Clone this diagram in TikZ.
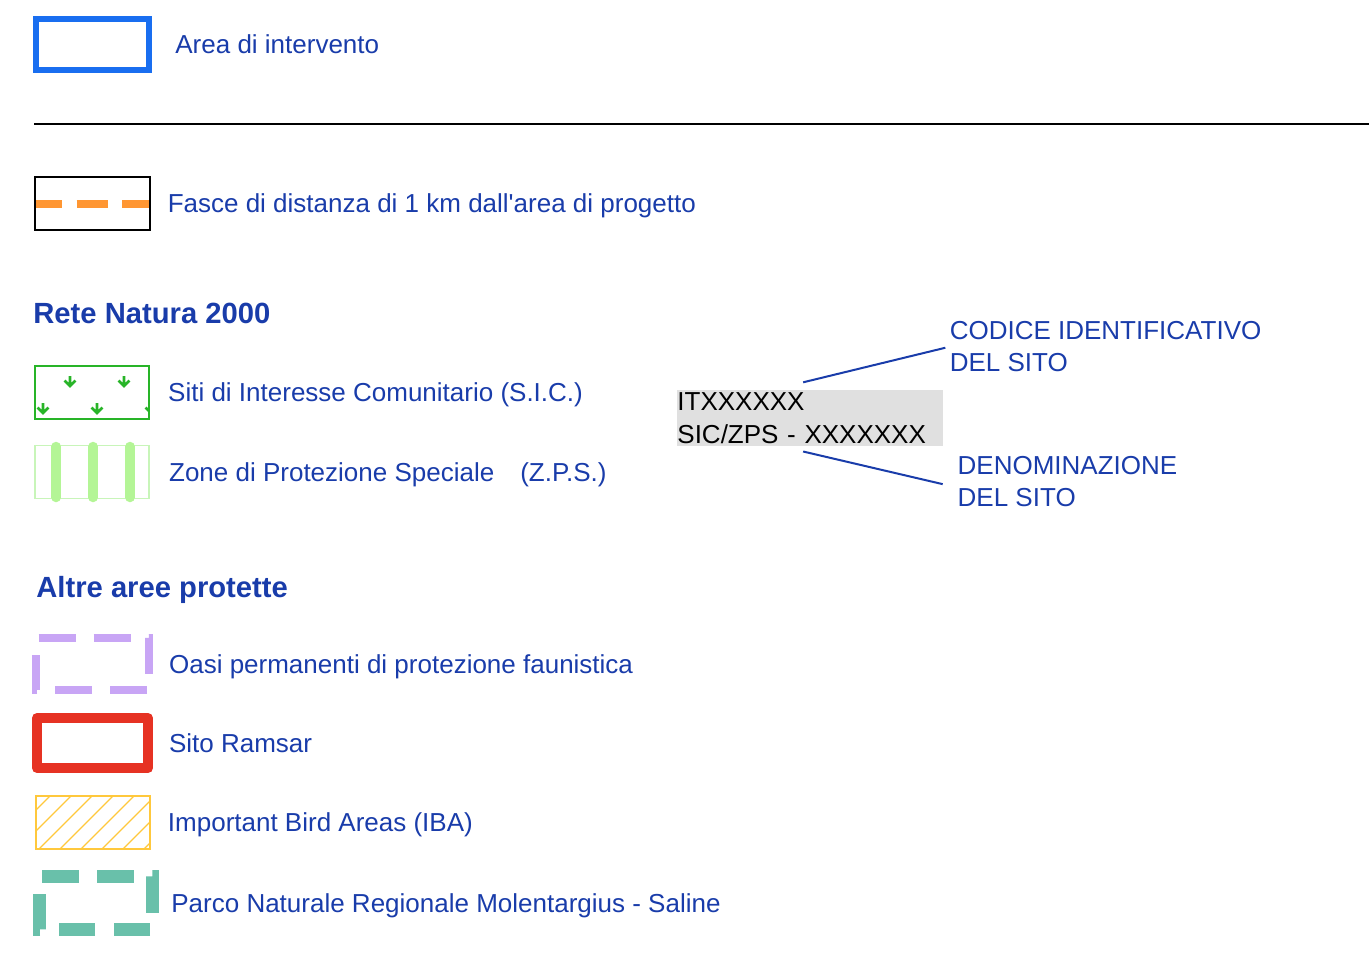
\documentclass[tikz,border=0pt]{standalone}
\usepackage{fontspec}
\setmainfont{Liberation Sans}
\usepackage{xcolor}
\usepackage{tikz}
\usetikzlibrary{positioning}
\usetikzlibrary{calc}

\definecolor{legendblue}{RGB}{25,60,170}
\definecolor{areablue}{RGB}{25,110,240}
\definecolor{fasceorange}{RGB}{255,150,50}
\definecolor{sicgreen}{RGB}{40,180,40}
\definecolor{zpsedge}{RGB}{200,245,185}
\definecolor{zpsfill}{RGB}{180,245,150}
\definecolor{oasililac}{RGB}{200,165,245}
\definecolor{ramsarred}{RGB}{230,50,35}
\definecolor{ibayellow}{RGB}{255,200,60}
\definecolor{parcoteal}{RGB}{105,192,170}
\definecolor{codegray}{RGB}{224,224,224}

\begin{document}
\begin{tikzpicture}[x=0.5pt,y=-0.5pt,
    lbl/.style={text=legendblue,inner sep=0pt,text height=9.3pt,text depth=0pt,
      font=\fontsize{13pt}{16.25pt}\selectfont},
    sidelbl/.style={text=legendblue,inner sep=0pt,align=left,anchor=west,
      font=\fontsize{13pt}{16.25pt}\selectfont},
    head/.style={text=legendblue,inner sep=0pt,text height=10.4pt,text depth=0pt,anchor=west,
      font=\fontsize{14.6pt}{17pt}\selectfont\bfseries},
    symbox/.style={minimum width=57pt,minimum height=26.5pt,inner sep=0pt},
    hidden/.style={symbox,outer sep=0pt},
    codebox/.style={fill=codegray,minimum width=132.75pt,minimum height=27.75pt,
      text width=132.75pt,align=left,inner sep=0pt,anchor=north west,
      font=\fontsize{13pt}{16.25pt}\selectfont},
    link/.style={draw=legendblue,line width=1pt},
    zpsbar/.style={draw=zpsfill,line width=5pt,line cap=round,shorten <=1pt,shorten >=1pt},
    sicmark/.pic={\draw[sicgreen,line width=1.3pt] (0,-5) -- (0,5) (-5.5,-0.5) -- (0,5) -- (5.5,-0.5);}]

    \useasboundingbox (0,0) rectangle (1369,966);

    \node[symbox,draw=areablue,line width=3pt,minimum width=56.5pt,minimum height=25.5pt] (area) at (92.5,44.5) {};
    \node[lbl,right=11.5pt of area] (areaT) {Area di intervento};

    \draw[line width=1.35pt] (34,124) -- (1369,124);

    \node[symbox,draw=black,line width=0.75pt,minimum width=57.5pt] (fasce) at (92.5,203.5) {};
    \draw[fasceorange,line width=4pt,dash pattern=on 15.5pt off 7.25pt,dash phase=2.5pt,
      shorten <=0.9pt,shorten >=0.9pt] (fasce.west) -- (fasce.east);
    \node[lbl,right=8.3pt of fasce] (fasceT) {Fasce di distanza di 1 km dall\textquotesingle area di progetto};

    \node[head] (rete) at (33,313.5) {Rete Natura 2000};

    \node[symbox,draw=sicgreen,line width=1pt,
      path picture={
        \foreach \dx/\dy in {-22/-11.5,32/-11.5,-49/15.5,5/15.5,59/15.5}
          \pic at ($(path picture bounding box.center)+(\dx,\dy)$) {sicmark};
      }] (sic) at (92,392.5) {};
    \node[lbl,right=8.9pt of sic] (sicT) {Siti di Interesse Comunitario (S.I.C.)};

    \node[symbox,draw=zpsedge,line width=0.75pt] (zps) at (92,472) {};
    \foreach \f in {0.19,0.51,0.83}
      \draw[zpsbar] ($(zps.north west)!\f!(zps.north east)$) -- ($(zps.south west)!\f!(zps.south east)$);
    \node[lbl,right=9.5pt of zps] (zpsT) {Zone di Protezione Speciale\hspace{13pt}(Z.P.S.)};

    \node[codebox] (code) at (677,390) {ITXXXXXX\\SIC/ZPS - XXXXXXX};
    \node[sidelbl] (codice) at (949.4,346.75) {CODICE IDENTIFICATIVO\\DEL SITO};
    \node[sidelbl] (denom) at (957.3,481.75) {DENOMINAZIONE\\DEL SITO};
    \draw[link,shorten >=2.1pt] ([xshift=-3.5pt,yshift=3.85pt]code.north) -- (codice.west);
    \draw[link,shorten >=7.5pt] ([xshift=-3.5pt,yshift=-2.6pt]code.south) -- ([yshift=-2.9pt]denom.west);

    \node[head] (altre) at (36,587) {Altre aree protette};

    \node[hidden,minimum width=56.75pt,minimum height=26.25pt] (oasi) at (92.25,663.75) {};
    \draw[oasililac,line width=4pt,dash pattern=on 18.5pt off 9pt,dash phase=26pt]
      (oasi.north west) -- (oasi.north east) -- (oasi.south east) -- (oasi.south west) -- cycle;
    \node[lbl,right=9.85pt of oasi] (oasiT) {Oasi permanenti di protezione faunistica};

    \node[symbox,draw=ramsarred,line width=5pt,line join=round,minimum width=55.5pt,minimum height=25pt] (ramsar) at (92.5,743) {};
    \node[lbl,right=7.85pt of ramsar] (ramsarT) {Sito Ramsar};

    \node[symbox,draw=ibayellow,line width=0.75pt,
      path picture={
        \foreach \k in {-60,-39,...,120}
          \draw[ibayellow,line width=0.6pt] ($(path picture bounding box.south west)+(\k,0)$) -- ++(60,-60);
      }] (iba) at (93,822.5) {};
    \node[lbl,right=8.4pt of iba] (ibaT) {Important Bird Areas (IBA)};

    \node[hidden,minimum width=56.5pt,minimum height=26.5pt] (parco) at (95.5,903) {};
    \draw[parcoteal,line width=6.5pt,dash pattern=on 18.25pt off 9.25pt,dash phase=26pt]
      (parco.north west) -- (parco.north east) -- (parco.south east) -- (parco.south west) -- cycle;
    \node[lbl,right=9.5pt of parco] (parcoT) {Parco Naturale Regionale Molentargius - Saline};

\end{tikzpicture}
\end{document}
